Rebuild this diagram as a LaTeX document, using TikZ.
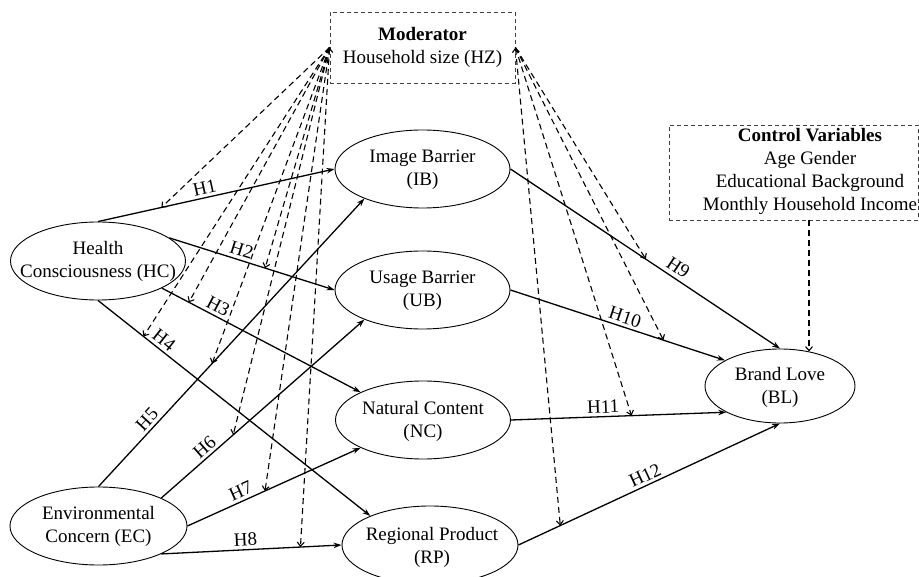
\documentclass[tikz,border=0pt]{standalone}
\usepackage{fontspec}
\setmainfont{Liberation Serif}
\usetikzlibrary{shapes.geometric,arrows.meta}
\begin{document}
\begin{tikzpicture}[x=1pt,y=-1pt,
  every node/.style={font=\fontsize{19}{23}\selectfont},
  lat/.style={draw, ellipse, line width=0.9pt, minimum width=175pt, minimum height=78pt, inner sep=0pt},
  txt/.style={align=center, inner sep=0pt},
  hpath/.style={line width=1.3pt, -{Stealth[length=8pt,width=5.5pt]}},
  modline/.style={line width=1.1pt, dash pattern=on 6pt off 4pt, -{Straight Barb[length=4pt,width=7pt]}},
  modboth/.style={line width=1.1pt, dash pattern=on 6pt off 4pt, {Straight Barb[length=4pt,width=7pt]}-{Straight Barb[length=4pt,width=7pt]}},
  hl/.style={sloped, above, inner sep=3pt},
  dbox/.style={draw=black!75, line width=0.9pt, dash pattern=on 4pt off 3pt}
]
\useasboundingbox (0,0) rectangle (919,577);

% boxes
\node[dbox, minimum width=185pt, minimum height=71pt, align=center, inner sep=0pt] (MOD) at (422.5,47.5) {\textbf{Moderator}\\Household size (HZ)};
\node[dbox, minimum width=249pt, minimum height=95pt] (CV) at (793.5,172.5) {};
\node[txt] (CVt) at (810,171) {\textbf{Control Variables}\\Age Gender\\Educational Background\\Monthly Household Income};

% latent variables
\node[lat] (HC) at (98,261) {};
\node[txt] (HCt) at (98,261) {Health\\Consciousness (HC)};
\node[lat, minimum width=177pt] (EC) at (98.5,526) {};
\node[txt] (ECt) at (98.5,526) {Environmental\\Concern (EC)};
\node[lat] (IB) at (422.5,169) {};
\node[txt] (IBt) at (422.5,170) {Image Barrier\\(IB)};
\node[lat] (UB) at (422.5,290) {};
\node[txt] (UBt) at (422.5,291) {Usage Barrier\\(UB)};
\node[lat] (NC) at (423,420) {};
\node[txt] (NCt) at (423,421) {Natural Content\\(NC)};
\node[lat, minimum width=176pt] (RP) at (430,545) {};
\node[txt] (RPt) at (432,547) {Regional Product\\(RP)};
\node[lat, minimum width=150pt, minimum height=74pt] (BL) at (780,386) {};
\node[txt] (BLt) at (780,387) {Brand Love\\(BL)};

% hypothesised paths
\draw[hpath] (HC.north) -- coordinate[pos=0.268] (h1) node[hl,pos=0.46]{H1} (IB.west);
\draw[hpath] (HC.18) -- coordinate[pos=0.58] (h2) node[hl,pos=0.42]{H2} (UB.west);
\draw[hpath] (HC.-23) -- coordinate[pos=0.136] (h3) node[hl,pos=0.26]{H3} (NC.156);
\draw[hpath] (HC.south) -- coordinate[pos=0.167] (h4) node[hl,pos=0.22]{H4} (RP.154);
\draw[hpath] (EC.north) -- coordinate[pos=0.427] (h5) node[hl,pos=0.21]{H5} (IB.-153);
\draw[hpath] (EC.24) -- coordinate[pos=0.354] (h6) node[hl,pos=0.245]{H6} (UB.-153);
\draw[hpath] (EC.east) -- coordinate[pos=0.448] (h7) node[hl,pos=0.33]{H7} (NC.-156);
\draw[hpath] (EC.-24) -- coordinate[pos=0.772] (h8) node[hl,pos=0.47]{H8} (RP.west);
\draw[hpath] (IB.east) -- coordinate[pos=0.502] (h9) node[hl,pos=0.6,inner sep=4pt]{H9} (BL.north);
\draw[hpath] (UB.east) -- coordinate[pos=0.713] (h10) node[hl,pos=0.52]{H10} (BL.155);
\draw[hpath] (NC.east) -- coordinate[pos=0.56] (h11) node[hl,pos=0.43]{H11} (BL.-154);
\draw[hpath] (RP.east) -- coordinate[pos=0.16] (h12) node[hl,pos=0.5]{H12} (BL.south);

% moderator links
\draw[modline] (MOD.west) -- (h1);
\draw[modline] (MOD.west) -- (h2);
\draw[modline] (MOD.west) -- (h3);
\draw[modline] (MOD.west) -- (h4);
\draw[modline] (MOD.west) -- (h5);
\draw[modline] (MOD.west) -- (h6);
\draw[modline] (MOD.west) -- (h7);
\draw[modboth] (MOD.west) -- (h8);
\draw[modline] (MOD.east) -- (h9);
\draw[modline] (MOD.east) -- (h10);
\draw[modline] (MOD.east) -- (h11);
\draw[modboth] (MOD.east) -- (h12);

% control variables
\draw[modline] (CV.south -| BL.50) -- (BL.50);
\end{tikzpicture}
\end{document}
